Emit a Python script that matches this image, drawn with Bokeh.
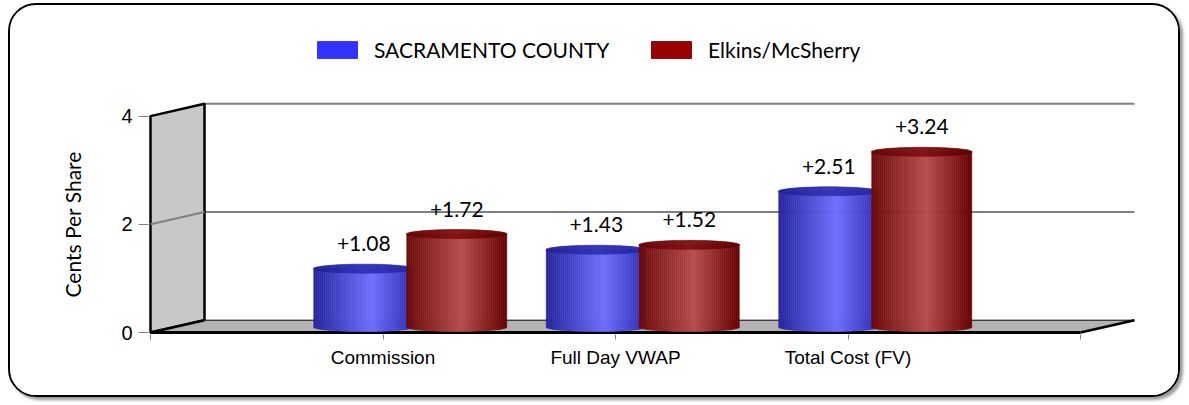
import numpy as np
from bokeh.plotting import figure
from bokeh.models import (ColumnDataSource, Range1d, FixedTicker, Legend,
                          LegendItem, LinearAxis, Title)
from bokeh.embed import file_html
from bokeh.resources import INLINE
from bokeh.core.properties import value

# ---------------- data ----------------
categories = ["Commission", "Full Day VWAP", "Total Cost (FV)"]
sacramento = [1.08, 1.43, 2.51]
elkins = [1.72, 1.52, 3.24]
series_names = ["SACRAMENTO COUNTY", "Elkins/McSherry"]
legend_colors = ["#3333ff", "#990000"]
y_ticks = [0, 2, 4]
y_title = "Cents Per Share"

# ---------------- layout constants ----------------
PX_X = 232.5        # pixels per x unit
PX_Y = 54.1         # pixels per y unit
W, H = 1172, 394
DX = 54 / PX_X      # 3D depth offset (x)
DY = 12.3 / PX_Y    # 3D depth offset (y)
X_END = len(categories) + 1
Y_MAX = max(y_ticks)
FRAC = 0.44         # depth position of the bars
BAR_W = 100 / PX_X
ELL_B = 4.5 / PX_Y  # ellipse half-height in data units

p = figure(width=W, height=H, output_backend="svg", toolbar_location=None,
           x_range=Range1d(-2 / PX_X, (1170 - 150) / PX_X),
           y_range=Range1d(-2 / PX_Y, (332 - 20) / PX_Y),
           min_border_left=138, min_border_right=W - 1160, min_border_top=15,
           min_border_bottom=H - 329, x_axis_type=None, y_axis_type=None)
p.xgrid.visible = False
p.ygrid.visible = False
p.outline_line_color = None
p.background_fill_color = "white"
p.border_fill_color = "white"
p.styles = {"border": "2px solid #000000", "border-radius": "28px",
            "box-shadow": "3px 3px 3px #9a9a9a", "overflow": "hidden",
            "margin-left": "8px", "margin-top": "3px"}

# ---------------- 3D frame ----------------
for t in y_ticks[1:]:
    p.segment(x0=[DX], y0=[t + DY], x1=[X_END + DX], y1=[t + DY],
              line_color="#808080", line_width=2)
p.patch(x=[0, 0, DX, DX], y=[0, Y_MAX, Y_MAX + DY, DY],
        fill_color="#c8c8c8", line_color="black", line_width=2.5)
for t in y_ticks:
    if 0 < t < Y_MAX:
        p.segment(x0=[0], y0=[t], x1=[DX], y1=[t + DY],
                  line_color="#808080", line_width=2)
p.patch(x=[0, X_END, X_END + DX, DX], y=[0, 0, DY, DY],
        fill_color="#b3b3b3", line_color=None)
p.line(x=[DX, X_END + DX], y=[DY, DY], line_color="black", line_width=1)
p.line(x=[0, DX], y=[0, DY], line_color="black", line_width=2.5)
p.line(x=[X_END, X_END + DX], y=[0, DY], line_color="black", line_width=2.5)
p.line(x=[0, X_END], y=[0, 0], line_color="black", line_width=3)


# ---------------- cylinders ----------------
def shade(stops, t):
    for (t0, c0), (t1, c1) in zip(stops[:-1], stops[1:]):
        if t <= t1:
            k = 0 if t1 == t0 else (t - t0) / (t1 - t0)
            rgb = [int(round(a + (b - a) * k)) for a, b in zip(c0, c1)]
            return "#%02x%02x%02x" % tuple(rgb)
    return "#%02x%02x%02x" % stops[-1][1]


blue_body = [(0, (0x25, 0x25, 0x9e)), (0.58, (0x6e, 0x6e, 0xff)), (1, (0x2c, 0x2c, 0xb0))]
red_body = [(0, (0x6c, 0x0a, 0x0a)), (0.55, (0xb8, 0x4c, 0x4c)), (1, (0x66, 0x00, 0x00))]
blue_top = [(0, (0x22, 0x22, 0x98)), (0.5, (0x34, 0x34, 0xba)), (1, (0x26, 0x26, 0xa4))]
red_top = [(0, (0x66, 0x06, 0x06)), (0.5, (0x84, 0x14, 0x14)), (1, (0x60, 0x00, 0x00))]

NSTRIP = 50


def cylinders(centers, values, body_stops, top_stops):
    body = dict(left=[], right=[], top=[], bottom=[], color=[])
    cap = dict(left=[], right=[], top=[], bottom=[], color=[])
    base = FRAC * DY
    for cx, v in zip(centers, values):
        edges = np.linspace(cx - BAR_W / 2, cx + BAR_W / 2, NSTRIP + 1)
        ytop = v + base
        for i in range(NSTRIP):
            xl, xr = edges[i], edges[i + 1]
            u = ((xl + xr) / 2 - cx) / (BAR_W / 2)
            t = (i + 0.5) / NSTRIP
            h = ELL_B * np.sqrt(max(0.0, 1 - u * u))
            body["left"].append(xl); body["right"].append(xr)
            body["bottom"].append(base - h); body["top"].append(ytop)
            body["color"].append(shade(body_stops, t))
            cap["left"].append(xl); cap["right"].append(xr)
            cap["bottom"].append(ytop - h); cap["top"].append(ytop + h)
            cap["color"].append(shade(top_stops, t))
    p.quad(source=ColumnDataSource(body), left="left", right="right",
           top="top", bottom="bottom", fill_color="color", line_color="color",
           line_width=0.6)
    p.quad(source=ColumnDataSource(cap), left="left", right="right",
           top="top", bottom="bottom", fill_color="color", line_color="color",
           line_width=0.6)


group_x = [i + 1 + FRAC * DX for i in range(len(categories))]
blue_cx = [g - 93 / PX_X + BAR_W / 2 for g in group_x]
red_cx = [g + BAR_W / 2 for g in group_x]
cylinders(blue_cx, sacramento, blue_body, blue_top)
cylinders(red_cx, elkins, red_body, red_top)

# value labels
lab_x = blue_cx + red_cx
lab_y = [v + FRAC * DY for v in sacramento + elkins]
lab_t = ["+%.2f" % v for v in sacramento + elkins]
p.text(x=lab_x, y=lab_y, text=lab_t, text_align="center",
       text_baseline="middle", y_offset=-25, text_font=value("Lato"),
       text_font_size="21px", text_color="black")

# ---------------- axes ----------------
yaxis = LinearAxis(ticker=FixedTicker(ticks=y_ticks))
yaxis.axis_line_color = None
yaxis.major_tick_line_color = "#808080"
yaxis.major_tick_out = 10
yaxis.major_tick_in = 0
yaxis.minor_tick_line_color = None
yaxis.major_label_standoff = 6
yaxis.major_label_text_font = "Liberation Sans"
yaxis.major_label_text_font_size = "20px"
yaxis.major_label_text_color = "black"
p.add_layout(yaxis, "left")

# y-axis title placed beside the 0..max span
p.add_layout(Title(text=y_title, align="left", vertical_align="bottom",
                   offset=37, standoff=68, text_font="Lato",
                   text_font_size="21px", text_font_style="normal",
                   text_color="black"), "left")

xticks = list(range(0, X_END + 1))
overrides = {k: "" for k in xticks}
for i, c in enumerate(categories):
    overrides[i + 1] = c
xaxis = LinearAxis(ticker=FixedTicker(ticks=xticks),
                   major_label_overrides=overrides)
xaxis.axis_line_color = None
xaxis.major_tick_line_color = "#808080"
xaxis.major_tick_out = 5
xaxis.major_tick_in = 0
xaxis.minor_tick_line_color = None
xaxis.major_label_standoff = 7
xaxis.major_label_text_font = "Liberation Sans"
xaxis.major_label_text_font_size = "19px"
xaxis.major_label_text_color = "black"
p.add_layout(xaxis, "below")

# ---------------- legends ----------------
leg_pos = [(164, 272), (498, 272)]
for name, col, pos in zip(series_names, legend_colors, leg_pos):
    r = p.quad(left=[np.nan], right=[np.nan], top=[np.nan], bottom=[np.nan],
               fill_color=col, line_color=col)
    leg = Legend(items=[LegendItem(label=name, renderers=[r])], location=pos,
                 orientation="horizontal", glyph_width=50, glyph_height=21,
                 label_height=21, label_standoff=12, padding=0, margin=0,
                 spacing=0, border_line_color=None, background_fill_alpha=0,
                 label_text_font="Lato", label_text_font_size="21px",
                 label_text_color="black")
    p.add_layout(leg)

open("out.html", "w").write(file_html(p, INLINE))
